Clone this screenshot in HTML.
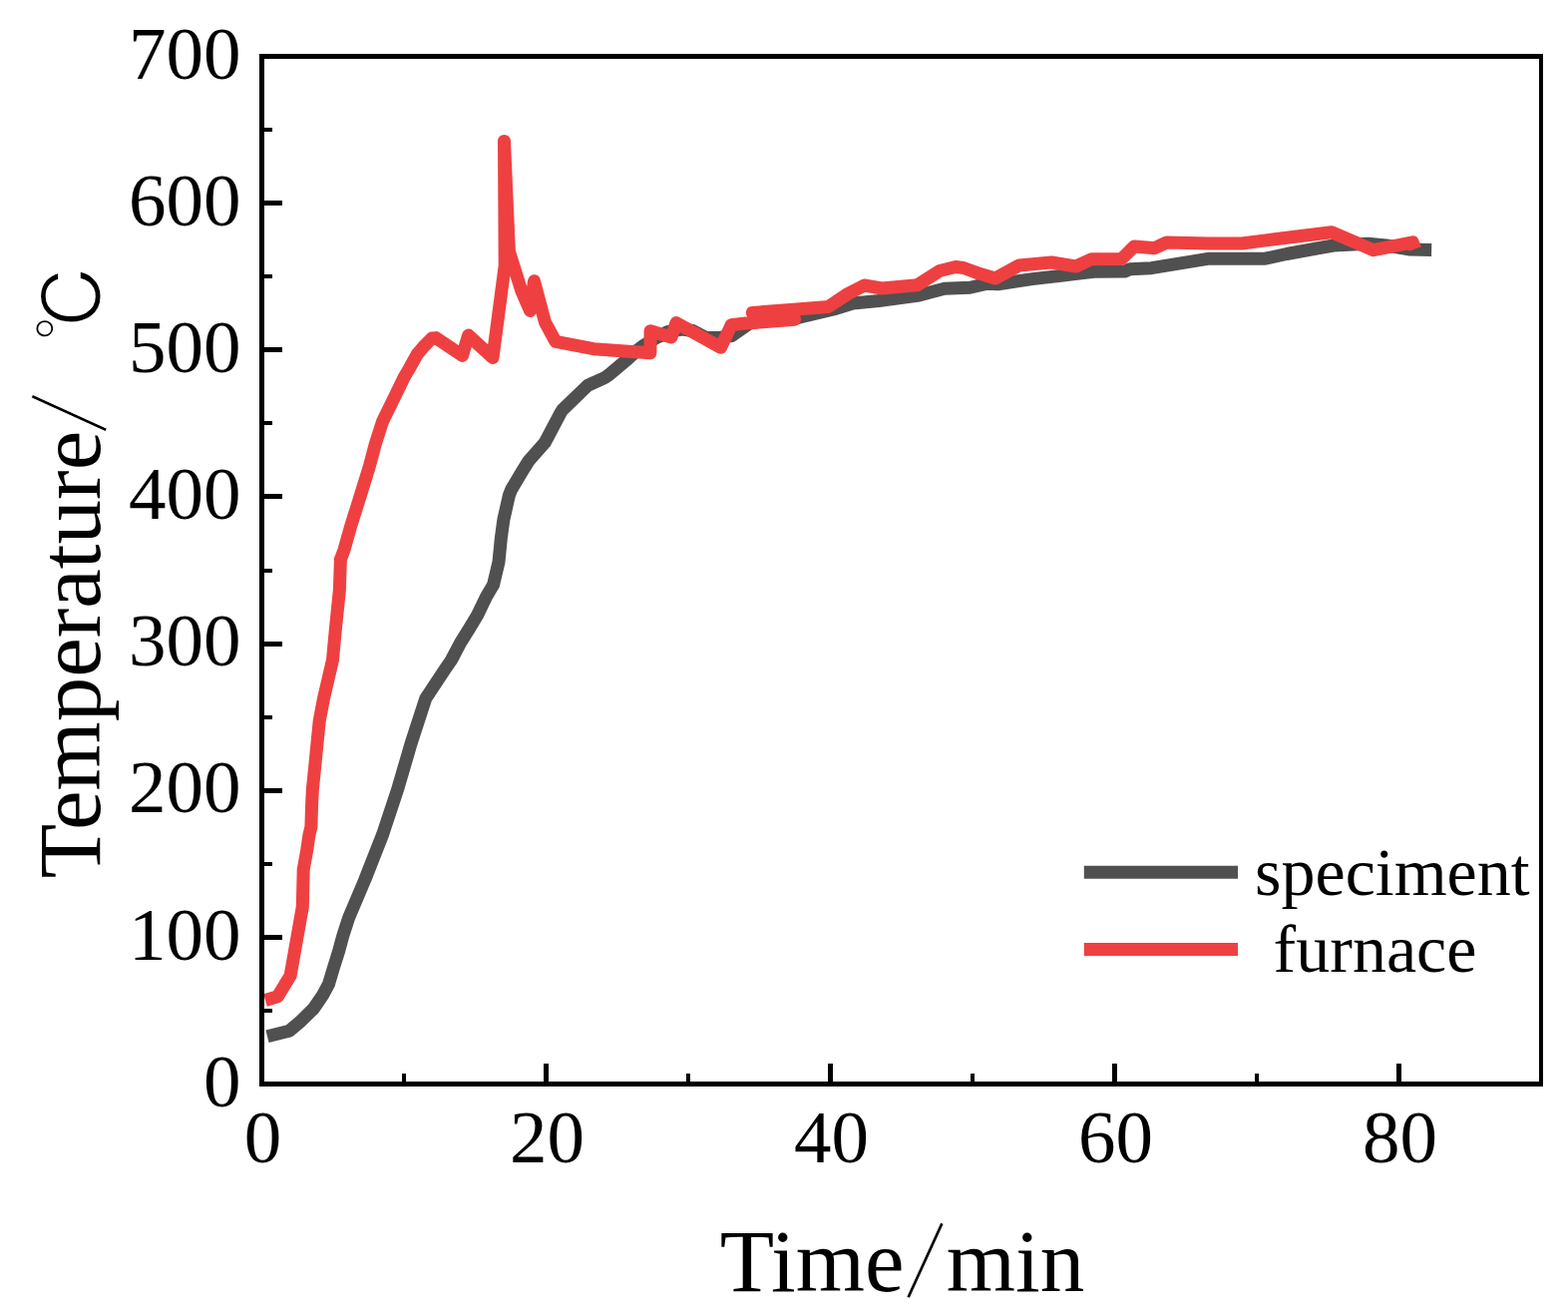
<!DOCTYPE html>
<html><head><meta charset="utf-8"><title>Temperature vs Time</title>
<style>html,body{margin:0;padding:0;background:#fff;overflow:hidden;}svg{display:block;}</style></head><body>
<svg width="1572" height="1319" viewBox="0 0 1572 1319" font-family="Liberation Serif, Noto Serif CJK SC, serif">
<rect width="1572" height="1319" fill="#fff"/>
<polyline fill="none" stroke="#505050" stroke-width="13" stroke-linejoin="round" stroke-linecap="butt" points="268.0,1038.8 290.0,1033.3 300.4,1024.6 314.3,1011.0 323.6,997.3 329.5,986.4 334.1,971.0 339.5,953.7 343.7,938.2 349.6,920.0 365.7,882.0 383.6,836.5 398.7,791.0 412.0,745.5 426.8,700.0 446.0,671.0 452.3,661.9 461.9,643.7 470.5,630.0 478.7,616.4 487.4,598.2 494.6,586.0 500.0,563.2 502.4,538.9 504.9,520.7 510.4,496.4 512.8,490.3 523.7,472.1 530.0,462.0 546.1,443.8 549.7,437.1 561.9,414.0 563.7,411.0 589.2,386.4 591.0,385.5 606.2,378.6 609.8,376.2 630.0,359.2 639.1,350.9 645.7,346.0 659.0,338.0 664.7,335.7 669.0,332.7 684.0,330.0 694.5,331.5 707.8,338.5 721.8,338.5 733.4,336.7 752.4,323.5 801.0,318.3 835.7,310.0 855.0,304.0 880.9,301.5 919.6,296.4 947.0,289.3 972.5,288.3 989.8,284.2 1000.4,284.7 1035.0,279.6 1061.4,276.6 1085.9,273.5 1097.0,272.3 1127.6,272.1 1132.7,269.8 1154.4,268.7 1212.4,259.2 1268.4,259.2 1290.0,254.5 1337.0,246.0 1371.6,244.2 1392.0,246.3 1412.3,249.9 1435.2,250.4"/>
<polyline fill="none" stroke="#EF4041" stroke-width="13" stroke-linejoin="round" stroke-linecap="butt" points="266.0,1002.4 278.5,998.7 291.1,977.8 303.3,909.0 304.2,871.3 307.8,851.6 310.0,836.5 311.9,828.9 312.6,806.0 313.4,791.0 315.7,768.2 320.2,722.7 324.5,700.0 333.5,661.5 335.8,636.5 338.1,613.7 340.4,591.0 341.4,560.7 344.9,551.6 351.7,527.3 360.3,500.0 370.3,467.6 376.4,444.8 383.7,422.1 392.3,404.6 405.2,378.1 410.0,370.0 418.3,355.0 426.2,345.8 433.0,339.0 437.0,338.6 463.5,356.4 469.6,336.1 494.0,358.5 506.2,266.0 505.5,141.4 510.4,252.0 523.0,292.0 531.5,311.5 535.5,281.8 546.5,323.2 557.0,342.3 595.0,349.7 630.0,352.3 651.9,353.8 652.1,331.7 673.0,338.0 678.0,323.6 722.6,348.3 733.2,325.8 748.0,323.9 752.0,323.7 796.6,320.2 754.3,313.5 785.8,311.0 830.6,307.4 850.0,294.5 866.6,286.0 883.9,289.0 919.6,285.7 942.0,271.5 958.0,267.5 966.0,268.5 980.0,273.6 997.8,279.0 1021.7,266.0 1054.3,263.0 1078.7,267.0 1094.5,259.7 1124.5,259.5 1137.0,247.0 1152.4,248.3 1157.5,248.7 1169.7,243.0 1211.4,244.0 1245.0,244.0 1280.0,239.5 1335.0,232.8 1377.0,250.7 1416.2,242.8 1418.8,249.5"/>
<g stroke="#000" stroke-width="5" fill="none" stroke-linecap="square">
<path d="M260,56.5 H1547 M260,1086.5 H1547 M262.5,54 V1089" stroke-linecap="butt"/>
<path d="M1545,54 V1089" stroke-width="4" stroke-linecap="butt"/>
<path d="M262.5,1086.5 H283" stroke-linecap="butt"/>
<path d="M262.5,1013.0 H273" stroke-width="4" stroke-linecap="butt"/>
<path d="M262.5,939.5 H283" stroke-linecap="butt"/>
<path d="M262.5,866.0 H273" stroke-width="4" stroke-linecap="butt"/>
<path d="M262.5,792.5 H283" stroke-linecap="butt"/>
<path d="M262.5,719.0 H273" stroke-width="4" stroke-linecap="butt"/>
<path d="M262.5,645.5 H283" stroke-linecap="butt"/>
<path d="M262.5,572.0 H273" stroke-width="4" stroke-linecap="butt"/>
<path d="M262.5,497.5 H283" stroke-linecap="butt"/>
<path d="M262.5,424.0 H273" stroke-width="4" stroke-linecap="butt"/>
<path d="M262.5,350.5 H283" stroke-linecap="butt"/>
<path d="M262.5,277.0 H273" stroke-width="4" stroke-linecap="butt"/>
<path d="M262.5,203.5 H283" stroke-linecap="butt"/>
<path d="M262.5,130.0 H273" stroke-width="4" stroke-linecap="butt"/>
<path d="M262.5,56.5 H283" stroke-linecap="butt"/>
<path d="M262.5,1086.5 V1066" stroke-linecap="butt"/>
<path d="M405.0,1086.5 V1076" stroke-width="4" stroke-linecap="butt"/>
<path d="M547.5,1086.5 V1066" stroke-linecap="butt"/>
<path d="M690.0,1086.5 V1076" stroke-width="4" stroke-linecap="butt"/>
<path d="M832.5,1086.5 V1066" stroke-linecap="butt"/>
<path d="M975.0,1086.5 V1076" stroke-width="4" stroke-linecap="butt"/>
<path d="M1117.5,1086.5 V1066" stroke-linecap="butt"/>
<path d="M1260.0,1086.5 V1076" stroke-width="4" stroke-linecap="butt"/>
<path d="M1402.5,1086.5 V1066" stroke-linecap="butt"/>
<path d="M1545.0,1086.5 V1076" stroke-width="4" stroke-linecap="butt"/>
</g>
<g font-size="75">
<text x="241.6" y="1108.6" text-anchor="end">0</text>
<text x="241.6" y="961.5" text-anchor="end">100</text>
<text x="241.6" y="814.3" text-anchor="end">200</text>
<text x="241.6" y="667.2" text-anchor="end">300</text>
<text x="241.6" y="520.0" text-anchor="end">400</text>
<text x="241.6" y="372.9" text-anchor="end">500</text>
<text x="241.6" y="225.7" text-anchor="end">600</text>
<text x="241.6" y="78.6" text-anchor="end">700</text>
<text x="263.5" y="1165.2" text-anchor="middle">0</text>
<text x="548.5" y="1165.2" text-anchor="middle">20</text>
<text x="833.5" y="1165.2" text-anchor="middle">40</text>
<text x="1118.5" y="1165.2" text-anchor="middle">60</text>
<text x="1403.5" y="1165.2" text-anchor="middle">80</text>
</g>
<text x="721.7" y="1293.8" font-size="89">Time</text>
<text x="906.2" y="1295.8" font-size="85.2" font-family="IPAGothic,sans-serif" stroke="#fff" stroke-width="1">/</text>
<text x="948.8" y="1293.8" font-size="89">min</text>
<g transform="translate(99.5,880.2) rotate(-90)">
<text x="0" y="0" font-size="89">Temperature</text>
<text x="445" y="2.4" font-size="85.2" font-family="IPAGothic,sans-serif" stroke="#fff" stroke-width="1">/</text>
<text transform="translate(538.0,4.1) scale(0.956,1)" font-size="82.7" font-family="IPAGothic,sans-serif" stroke="#fff" stroke-width="1.8">℃</text>
</g>
<path d="M1086.8,874.3 H1241" stroke="#505050" stroke-width="13"/>
<path d="M1086.8,951.4 H1241" stroke="#EF4041" stroke-width="13"/>
<text x="1258" y="897" font-size="68">speciment</text>
<text x="1276.6" y="973.9" font-size="68">furnace</text>
</svg></body></html>
